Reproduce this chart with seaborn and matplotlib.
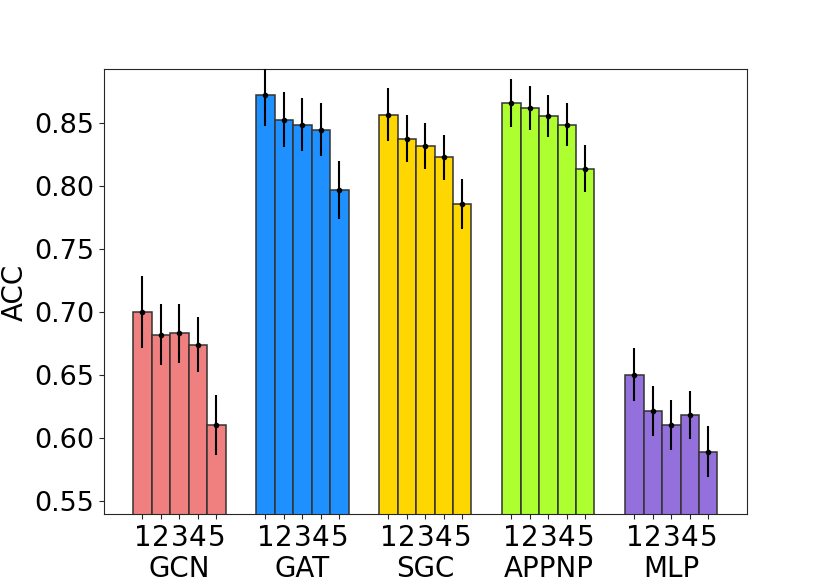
import numpy as np
import pandas as pd
import seaborn as sns
import matplotlib
matplotlib.use('Agg')
import matplotlib.pyplot as plt

##### Data

models = ['GCN', 'GAT', 'SGC', 'APPNP', 'MLP']
variants = ['1', '2', '3', '4', '5']

acc_gcn = [0.700, 0.682, 0.683, 0.674, 0.610]
acc_gat = [0.873, 0.853, 0.849, 0.845, 0.797]
acc_sgc = [0.857, 0.838, 0.832, 0.823, 0.786]
acc_appnp = [0.866, 0.862, 0.856, 0.849, 0.814]
acc_mlp = [0.650, 0.621, 0.610, 0.618, 0.589]

err_gcn = [0.029, 0.024, 0.0235, 0.022, 0.024]
err_gat = [0.025, 0.022, 0.021, 0.021, 0.023]
err_sgc = [0.021, 0.019, 0.0185, 0.018, 0.020]
err_appnp = [0.019, 0.0175, 0.017, 0.017, 0.0185]
err_mlp = [0.021, 0.020, 0.020, 0.019, 0.020]

colors = ['lightcoral', 'dodgerblue', 'gold', 'greenyellow', 'mediumpurple']

##### Long table for seaborn

acc = [acc_gcn, acc_gat, acc_sgc, acc_appnp, acc_mlp]
err = [err_gcn, err_gat, err_sgc, err_appnp, err_mlp]

rows = []
for m, vals, errs in zip(models, acc, err):
    for v, a, e in zip(variants, vals, errs):
        rows.append({'model': m, 'variant': v, 'ACC': a, 'err': e})
df = pd.DataFrame(rows)

##### Plot

sns.set_style('ticks')
plt.rcParams['font.family'] = ['DejaVu Sans']
plt.rcParams['text.color'] = 'black'
plt.rcParams['axes.labelcolor'] = 'black'
plt.rcParams['xtick.labelcolor'] = 'black'
plt.rcParams['ytick.labelcolor'] = 'black'

fig, ax = plt.subplots(figsize=(8.3, 5.78), dpi=100)

sns.barplot(data=df, x='model', y='ACC', hue='variant', order=models,
            hue_order=variants, errorbar=None, width=0.75, gap=0,
            edgecolor='#333333', linewidth=1.1, legend=False, ax=ax)

bar_conts = list(ax.containers)  # one per variant

for i, cont in enumerate(bar_conts):
    for j, bar in enumerate(cont):
        bar.set_facecolor(colors[j])
        xc = bar.get_x() + bar.get_width() / 2
        ax.errorbar(xc, bar.get_height(), yerr=err[j][i], fmt='o',
                    color='black', ms=3, elinewidth=1.5, zorder=5)

# ticks under every bar, group name under the middle one
tick_pos = []
tick_lab = []
for j, m in enumerate(models):
    for i, v in enumerate(variants):
        bar = bar_conts[i][j]
        tick_pos.append(bar.get_x() + bar.get_width() / 2)
        tick_lab.append(v + '\n' + m if i == 2 else v)

ax.set_xticks(tick_pos)
ax.set_xticklabels(tick_lab, fontsize=20, linespacing=1.15)
ax.set_xlabel('')
ax.set_xlim(-0.615, 4.615)

ax.set_ylim(0.539, 0.893)
ax.set_yticks([0.55, 0.60, 0.65, 0.70, 0.75, 0.80, 0.85])
ax.set_yticklabels(['0.55', '0.60', '0.65', '0.70', '0.75', '0.80', '0.85'], fontsize=19.5)
ax.set_ylabel('ACC', fontsize=20)

plt.subplots_adjust(left=0.125, right=0.9, top=0.88, bottom=0.11)
plt.savefig('out.png', dpi=100)
